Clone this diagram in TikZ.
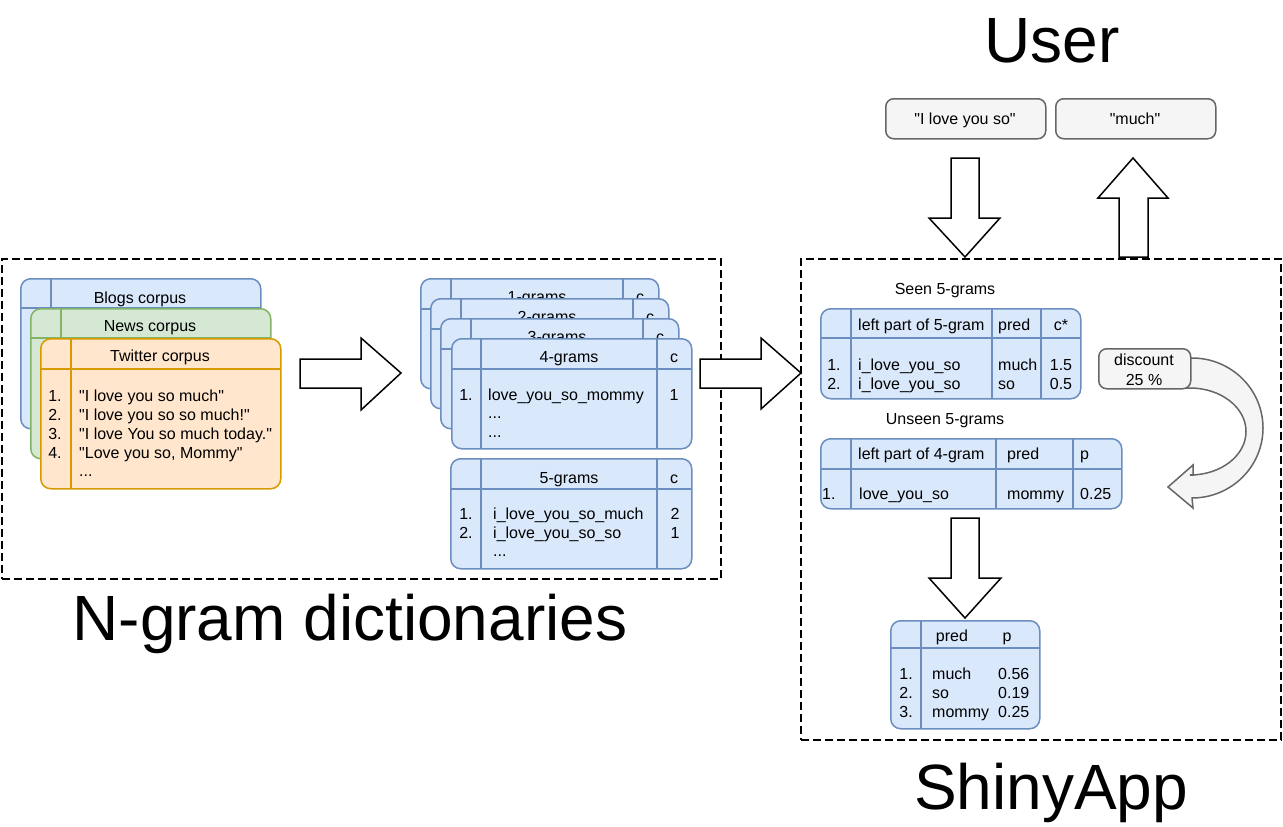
\documentclass[tikz,border=0pt]{standalone}
\usepackage{fontspec}
\setmainfont{Liberation Sans}[Ligatures=TeXOff]
\definecolor{bfill}{HTML}{DAE8FC}
\definecolor{bline}{HTML}{6C8EBF}
\definecolor{gfill}{HTML}{D5E8D4}
\definecolor{gline}{HTML}{82B366}
\definecolor{ofill}{HTML}{FFE6CC}
\definecolor{oline}{HTML}{D79B00}
\definecolor{grfill}{HTML}{F5F5F5}
\definecolor{grline}{HTML}{666666}
\newcommand\tfs{\fontsize{16}{19}\selectfont}
\newcommand\bigfs{\fontsize{64}{70}\selectfont}
\begin{document}
\begin{tikzpicture}[x=1pt,y=-1pt,
  card/.style={rectangle, rounded corners=10pt, line width=1.5pt, anchor=north west, inner sep=0pt},
  bluecard/.style={card, draw=bline, fill=bfill},
  greencard/.style={card, draw=gline, fill=gfill},
  orangecard/.style={card, draw=oline, fill=ofill},
  graybox/.style={card, draw=grline, fill=grfill, rounded corners=8pt},
  bsep/.style={draw=bline, line width=1.5pt},
  gsep/.style={draw=gline, line width=1.5pt},
  osep/.style={draw=oline, line width=1.5pt},
  txt/.style={inner sep=0pt, font=\tfs, text=black},
  title/.style={inner sep=0pt, font=\bigfs, text=black, anchor=base},
  region/.style={draw=black, line width=1.5pt, dash pattern=on 8pt off 4pt, anchor=north west, inner sep=0pt, rectangle},
  blockarrow/.style={draw=black, fill=white, line width=1.5pt, line join=miter}
]
\useasboundingbox (0,0) rectangle (1283,827);

% dashed regions
\node[region, minimum width=719pt, minimum height=320pt] (dictregion) at (1,258) {};
\node[region, minimum width=480pt, minimum height=481pt] (appregion) at (800,258) {};

% titles
\node[title] (usertitle) at (1052,62) {User};
\node[title] (ngramtitle) at (350,640) {N-gram dictionaries};
\node[title] (shinytitle) at (1051,809) {ShinyApp};

% corpus cards
\node[bluecard, minimum width=240pt, minimum height=150pt] (blogs) at (20,278) {};
\draw[bsep] (20,308) -- (260,308) (51,278) -- (51,428);
\node[txt, anchor=base] (blogst) at (140,303) {Blogs corpus};

\node[greencard, minimum width=240pt, minimum height=150pt] (news) at (30,308) {};
\draw[gsep] (30,338) -- (270,338) (61,308) -- (61,458);
\node[txt, anchor=base] (newst) at (150,331) {News corpus};

\node[orangecard, minimum width=240pt, minimum height=150pt] (twitter) at (40,338) {};
\draw[osep] (40,369) -- (280,369) (71,338) -- (71,488);
\node[txt, anchor=base] (twittert) at (160,361) {Twitter corpus};
\node[txt, anchor=base] (tw1n) at (55,401) {1.};
\node[txt, anchor=base] (tw2n) at (55,420) {2.};
\node[txt, anchor=base] (tw3n) at (55,439) {3.};
\node[txt, anchor=base] (tw4n) at (55,458) {4.};
\node[txt, anchor=base west] (tw1) at (79,401) {"I love you so much"};
\node[txt, anchor=base west] (tw2) at (79,420) {"I love you so so much!"};
\node[txt, anchor=base west] (tw3) at (79,439) {"I love You so much today."};
\node[txt, anchor=base west] (tw4) at (79,458) {"Love you so, Mommy"};
\node[txt, anchor=base west] (tw5) at (79,476) {...};

% n-gram cards
\node[bluecard, minimum width=238pt, minimum height=110pt] (g1) at (420,278) {};
\draw[bsep] (420,309) -- (658,309) (451,278) -- (451,388) (623,278) -- (623,388);
\node[txt, anchor=base] (g1t) at (537,302) {1-grams};
\node[txt, anchor=base] (g1c) at (640,302) {c};

\node[bluecard, minimum width=238pt, minimum height=110pt] (g2) at (430,298) {};
\draw[bsep] (430,329) -- (668,329) (461,298) -- (461,408) (633,298) -- (633,408);
\node[txt, anchor=base] (g2t) at (547,322) {2-grams};
\node[txt, anchor=base] (g2c) at (650,322) {c};

\node[bluecard, minimum width=238pt, minimum height=110pt] (g3) at (440,318) {};
\draw[bsep] (440,349) -- (678,349) (471,318) -- (471,428) (643,318) -- (643,428);
\node[txt, anchor=base] (g3t) at (557,342) {3-grams};
\node[txt, anchor=base] (g3c) at (660,342) {c};

\node[bluecard, minimum width=240pt, minimum height=110pt] (g4) at (451,338) {};
\draw[bsep] (451,369) -- (691,369) (481,338) -- (481,448) (657,338) -- (657,448);
\node[txt, anchor=base] (g4t) at (569,362) {4-grams};
\node[txt, anchor=base] (g4c) at (674,362) {c};
\node[txt, anchor=base] (g4n1) at (466,400) {1.};
\node[txt, anchor=base west] (g4r1) at (488,400) {love\_you\_so\_mommy};
\node[txt, anchor=base west] (g4r2) at (488,418) {...};
\node[txt, anchor=base west] (g4r3) at (488,437) {...};
\node[txt, anchor=base] (g4v1) at (674,400) {1};

\node[bluecard, minimum width=241pt, minimum height=110pt] (g5) at (450,458) {};
\draw[bsep] (450,489) -- (691,489) (481,458) -- (481,568) (657,458) -- (657,568);
\node[txt, anchor=base] (g5t) at (569,483) {5-grams};
\node[txt, anchor=base] (g5c) at (674,483) {c};
\node[txt, anchor=base] (g5n1) at (466,519) {1.};
\node[txt, anchor=base] (g5n2) at (466,538) {2.};
\node[txt, anchor=base west] (g5r1) at (493,519) {i\_love\_you\_so\_much};
\node[txt, anchor=base west] (g5r2) at (493,538) {i\_love\_you\_so\_so};
\node[txt, anchor=base west] (g5r3) at (493,556) {...};
\node[txt, anchor=base] (g5v1) at (675,519) {2};
\node[txt, anchor=base] (g5v2) at (675,538) {1};

% block arrows
\draw[blockarrow] (300,359) -- (361,359) -- (361,338) -- (401,373) -- (361,410) -- (361,388) -- (300,388) -- cycle;
\draw[blockarrow] (700,359) -- (761,359) -- (761,338) -- (801,373) -- (761,409) -- (761,388) -- (700,388) -- cycle;
\draw[blockarrow] (951,158) -- (979,158) -- (979,218) -- (1000,218) -- (965,257) -- (929,218) -- (951,218) -- cycle;
\draw[blockarrow] (1119,257) -- (1148,257) -- (1148,198) -- (1168,198) -- (1133,158) -- (1098,198) -- (1119,198) -- cycle;
\draw[blockarrow] (951,518) -- (979,518) -- (979,578) -- (1001,578) -- (965,618) -- (929,578) -- (951,578) -- cycle;

% user boxes
\node[graybox, minimum width=160pt, minimum height=40pt] (inbox) at (885,98) {};
\node[txt, anchor=base] (intext) at (965,124) {"I love you so"};
\node[graybox, minimum width=160pt, minimum height=40pt] (outbox) at (1055,98) {};
\node[txt, anchor=base] (outtext) at (1135,124) {"much"};

% seen 5-grams
\node[txt, anchor=base] (seenlbl) at (945,294) {Seen 5-grams};
\node[bluecard, minimum width=260pt, minimum height=90pt] (seen) at (820,308) {};
\draw[bsep] (820,338) -- (1080,338) (851,308) -- (851,398) (992,308) -- (992,398) (1041,308) -- (1041,398);
\node[txt, anchor=base west] (seenh1) at (858,330) {left part of 5-gram};
\node[txt, anchor=base west] (seenh2) at (998,330) {pred};
\node[txt, anchor=base] (seenh3) at (1061,330) {c*};
\node[txt, anchor=base] (seenn1) at (834,370) {1.};
\node[txt, anchor=base] (seenn2) at (834,389) {2.};
\node[txt, anchor=base west] (seenr1) at (858,370) {i\_love\_you\_so};
\node[txt, anchor=base west] (seenr2) at (858,389) {i\_love\_you\_so};
\node[txt, anchor=base west] (seenp1) at (998,370) {much};
\node[txt, anchor=base west] (seenp2) at (998,389) {so};
\node[txt, anchor=base] (seenc1) at (1061,370) {1.5};
\node[txt, anchor=base] (seenc2) at (1061,389) {0.5};

% unseen 5-grams
\node[txt, anchor=base] (unseenlbl) at (945,424) {Unseen 5-grams};
\node[bluecard, minimum width=301pt, minimum height=70pt] (unseen) at (820,438) {};
\draw[bsep] (820,469) -- (1121,469) (851,438) -- (851,508) (996,438) -- (996,508) (1073,438) -- (1073,508);
\node[txt, anchor=base west] (unh1) at (858,459) {left part of 4-gram};
\node[txt, anchor=base west] (unh2) at (1007,459) {pred};
\node[txt, anchor=base west] (unh3) at (1080,459) {p};
\node[txt, anchor=base west] (unn1) at (822,499) {1.};
\node[txt, anchor=base west] (unr1) at (859,499) {love\_you\_so};
\node[txt, anchor=base west] (unp1) at (1007,499) {mommy};
\node[txt, anchor=base west] (unv1) at (1080,499) {0.25};

% curved discount arrow
\draw[draw=grline, fill=grfill, line width=1.5pt, line join=miter]
  (1185,358) -- (1192,358) arc[start angle=-90, end angle=90, x radius=71, y radius=70]
  -- (1193,508) -- (1168,487) -- (1193,465) -- (1193,475) -- (1190,475)
  arc[start angle=90, end angle=-90, x radius=56, y radius=43.5]
  -- (1185,388) -- cycle;
\node[graybox, minimum width=92pt, minimum height=40pt] (discount) at (1098,348) {};
\node[txt, anchor=base] (disc1) at (1144,365) {discount};
\node[txt, anchor=base] (disc2) at (1144,385) {25 \%};

% result table
\node[bluecard, minimum width=149pt, minimum height=108pt] (result) at (890,620) {};
\draw[bsep] (890,648) -- (1039,648) (921,620) -- (921,728);
\node[txt, anchor=base] (resh1) at (952,641) {pred};
\node[txt, anchor=base] (resh2) at (1007,641) {p};
\node[txt, anchor=base east] (resn1) at (913,679) {1.};
\node[txt, anchor=base east] (resn2) at (913,698) {2.};
\node[txt, anchor=base east] (resn3) at (913,717) {3.};
\node[txt, anchor=base west] (resr1) at (932,679) {much};
\node[txt, anchor=base west] (resr2) at (932,698) {so};
\node[txt, anchor=base west] (resr3) at (932,717) {mommy};
\node[txt, anchor=base west] (resv1) at (998,679) {0.56};
\node[txt, anchor=base west] (resv2) at (998,698) {0.19};
\node[txt, anchor=base west] (resv3) at (998,717) {0.25};
\end{tikzpicture}
\end{document}
